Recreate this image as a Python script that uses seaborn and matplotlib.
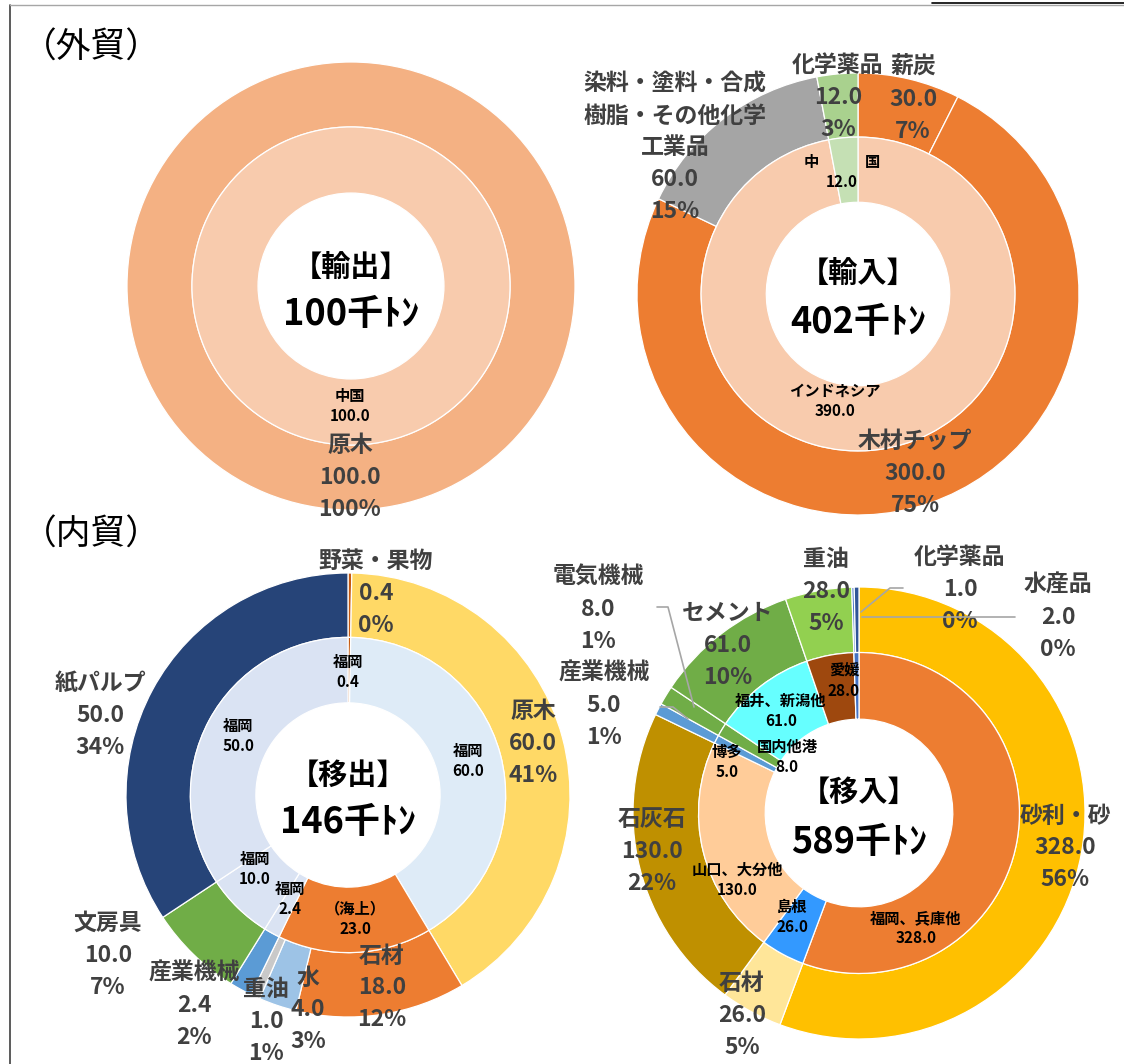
import matplotlib
matplotlib.use("Agg")
import matplotlib.pyplot as plt
from matplotlib.lines import Line2D
import seaborn as sns
import numpy as np

sns.set_theme(style="white")
plt.rcParams["font.family"] = ["Noto Sans CJK JP", "DejaVu Sans"]

W, H = 1124, 1064

# ---- 外貿：輸出 ----
export_outer_names = ["原木"]
export_outer_values = [100.0]
export_inner_names = ["中国"]
export_inner_values = [100.0]

# ---- 外貿：輸入 ----
import_outer_names = ["薪炭", "木材チップ", "染料・塗料・合成\n樹脂・その他化学\n工業品", "化学薬品"]
import_outer_values = [30.0, 300.0, 60.0, 12.0]
import_inner_names = ["インドネシア", "中\u3000\u3000\u3000国"]
import_inner_values = [390.0, 12.0]

# ---- 内貿：移出 ----
ship_out_outer_names = ["野菜・果物", "原木", "石材", "水", "重油", "産業機械", "文房具", "紙パルプ"]
ship_out_outer_values = [0.4, 60.0, 18.0, 4.0, 1.0, 2.4, 10.0, 50.0]
ship_out_inner_names = ["福岡", "福岡", "（海上）", "福岡", "福岡", "福岡"]
ship_out_inner_values = [0.4, 60.0, 23.0, 2.4, 10.0, 50.0]

# ---- 内貿：移入 ----
ship_in_outer_names = ["砂利・砂", "石材", "石灰石", "産業機械", "電気機械", "セメント", "重油", "化学薬品", "水産品"]
ship_in_outer_values = [328.0, 26.0, 130.0, 5.0, 8.0, 61.0, 28.0, 1.0, 2.0]
ship_in_inner_names = ["福岡、兵庫他", "島根", "山口、大分他", "博多", "国内他港", "福井、新潟他", "愛媛", ""]
ship_in_inner_values = [328.0, 26.0, 130.0, 5.0, 8.0, 61.0, 28.0, 3.0]

# colours
export_outer_colors = ["#F4B183"]
export_inner_colors = ["#F8CBAD"]
import_outer_colors = ["#ED7D31", "#ED7D31", "#A5A5A5", "#A9D18E"]
import_inner_colors = ["#F8CBAD", "#C5E0B4"]
ship_out_outer_colors = ["#C55A11", "#FFD966", "#ED7D31", "#9DC3E6", "#C9C9C9", "#5B9BD5", "#70AD47", "#264478"]
ship_out_inner_colors = ["#C55A11", "#DEEBF7", "#ED7D31", "#DAE3F3", "#DAE3F3", "#DAE3F3"]
ship_in_outer_colors = ["#FFC000", "#FFE699", "#BF9000", "#5B9BD5", "#70AD47", "#70AD47", "#92D050", "#4472C4", "#2F5597"]
ship_in_inner_colors = ["#ED7D31", "#3399FF", "#FFCC99", "#5B9BD5", "#70AD47", "#66FFFF", "#9E480E", "#4472C4"]

LABEL_GRAY = "#404040"


def percent_labels(values):
    """Whole percentages that add up to 100 (largest remainder)."""
    v = np.asarray(values, dtype=float)
    raw = v / v.sum() * 100
    base = np.floor(raw).astype(int)
    rest = 100 - base.sum()
    order = np.argsort(-(raw - base))
    for i in order[:rest]:
        base[i] += 1
    return base


fig = plt.figure(figsize=(W / 100, H / 100), dpi=100)


def donut(cx, cy, R, outer_vals, outer_names, outer_cols, inner_vals, inner_names,
          inner_cols, outer_pos, inner_pos, title, title_y, total_y):
    ax = fig.add_axes([(cx - R) / W, 1 - (cy + R) / H, 2 * R / W, 2 * R / H])
    wp = dict(edgecolor="white", linewidth=0.9)
    ax.pie(outer_vals, radius=1.0, colors=outer_cols, startangle=90,
           counterclock=False, wedgeprops=dict(width=0.29, **wp))
    ax.pie(inner_vals, radius=0.71, colors=inner_cols, startangle=90,
           counterclock=False, wedgeprops=dict(width=0.295, **wp))
    ax.set_xlim(-1, 1)
    ax.set_ylim(-1, 1)
    ax.set_aspect("equal")
    ax.axis("off")

    def d(px, py):
        return (px - cx) / R, (cy - py) / R

    pcts = percent_labels(outer_vals)
    for name, v, p, pos in zip(outer_names, outer_vals, pcts, outer_pos):
        x, y = d(*pos)
        ax.text(x, y, f"{name}\n{v:.1f}\n{p}%", ha="center", va="center",
                fontsize=16.5, fontweight="bold", color=LABEL_GRAY,
                linespacing=1.5, clip_on=False)
    for name, v, pos in zip(inner_names, inner_vals, inner_pos):
        if not name:
            continue
        x, y = d(*pos)
        ax.text(x, y, f"{name}\n{v:.1f}", ha="center", va="center",
                fontsize=11, fontweight="bold", color="black",
                linespacing=1.35, clip_on=False)
    total = round(sum(outer_vals))
    ax.text(*d(cx, title_y), title, ha="center", va="center", fontsize=21,
            fontweight="bold", color="black")
    ax.text(*d(cx, total_y), f"{total}千ﾄﾝ", ha="center", va="center",
            fontsize=26, fontweight="bold", color="black")
    return ax, d


# frame lines
fig.add_artist(Line2D([10 / W, 10 / W], [0, 1 - 5 / H], color="#404040", lw=1.2))
fig.add_artist(Line2D([10 / W, 1], [1 - 5 / H, 1 - 5 / H], color="#A6A6A6", lw=1.0))
fig.add_artist(Line2D([932 / W, 1], [1 - 3 / H, 1 - 3 / H], color="black", lw=1.2))

fig.text(22 / W, 1 - 48 / H, "（外貿）", ha="left", va="center", fontsize=25, color="black")
fig.text(22 / W, 1 - 535 / H, "（内貿）", ha="left", va="center", fontsize=25, color="black")

# 輸出
donut(351, 286, 224, export_outer_values, export_outer_names, export_outer_colors,
      export_inner_values, export_inner_names, export_inner_colors,
      [(350, 478)], [(350, 406)], "【輸出】", 267, 315)

# 輸入
donut(858, 294, 221, import_outer_values, import_outer_names, import_outer_colors,
      import_inner_values, import_inner_names, import_inner_colors,
      [(913, 99), (915, 473), (675, 148), (838, 97)],
      [(835, 401), (842, 172)], "【輸入】", 273, 322)

# 移出
donut(348, 795, 222, ship_out_outer_values, ship_out_outer_names, ship_out_outer_colors,
      ship_out_inner_values, ship_out_inner_names, ship_out_inner_colors,
      [(376, 593), (533, 743), (382, 988), (308, 1010), (266, 1022),
       (194, 1005), (108, 955), (100, 716)],
      [(348, 672), (468, 761), (355, 919), (290, 899), (255, 869), (238, 736)],
      "【移出】", 775, 823)

# 移入
ax_in, d_in = donut(859, 813, 226, ship_in_outer_values, ship_in_outer_names, ship_in_outer_colors,
                    ship_in_inner_values, ship_in_inner_names, ship_in_inner_colors,
                    [(1065, 848), (742, 1015), (652, 851), (604, 705), (598, 609),
                     (728, 645), (826, 592), (960, 589), (1058, 617)],
                    [(916, 928), (792, 917), (737, 880), (727, 762), (787, 757),
                     (781, 711), (844, 681), (0, 0)],
                    "【移入】", 792, 842)

# leader lines for the narrow slices
for pts in [[(903, 588), (890, 588), (861, 612)],
            [(1015, 617), (862, 617)],
            [(657, 607), (668, 607), (694, 707)],
            [(660, 707), (673, 707), (688, 719)]]:
    xs, ys = zip(*[d_in(*p) for p in pts])
    ax_in.plot(xs, ys, color="#A6A6A6", lw=1.2, clip_on=False, zorder=5)

fig.savefig("out.png", dpi=100)
